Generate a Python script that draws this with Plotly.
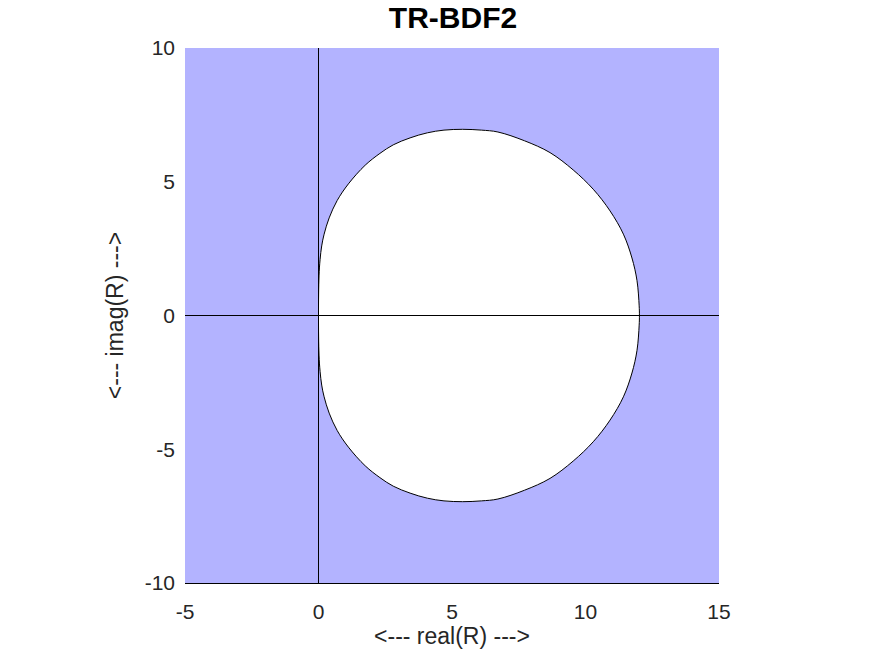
import plotly.graph_objects as go

# Stability boundary of TR-BDF2 (upper half, right to left)
bx_upper = [12.02, 12.01, 11.93, 11.74, 11.42, 10.92, 10.29, 9.54, 8.67, 7.72, 6.72, 6.10,
            5.40, 4.70, 4.08, 3.43, 2.80, 2.30, 1.75, 1.12, 0.70, 0.40, 0.21,
            0.12, 0.06, 0.02, 0.00]
by_upper = [0.00, 0.36, 1.30, 2.15, 3.04, 3.91, 4.72, 5.44, 6.09, 6.53, 6.86, 6.93,
            6.96, 6.93, 6.83, 6.64, 6.38, 6.06, 5.62, 4.92, 4.30, 3.65, 3.04,
            2.60, 2.10, 1.48, 0.00]
# lower half (left to right)
bx_lower = [0.00, 0.02, 0.06, 0.12, 0.21, 0.40, 0.70, 1.12, 1.75, 2.30, 2.80, 3.43,
            4.08, 4.70, 5.40, 6.10, 6.72, 7.72, 8.67, 9.54, 10.29, 10.92,
            11.42, 11.74, 11.93, 12.01, 12.02]
by_lower = [0.00, -1.48, -2.10, -2.60, -3.04, -3.65, -4.30, -4.92, -5.62, -6.06, -6.38, -6.64,
            -6.83, -6.93, -6.96, -6.93, -6.86, -6.53, -6.09, -5.44, -4.72, -3.91,
            -3.04, -2.15, -1.30, -0.36, 0.00]

x_range = [-5, 15]
y_range = [-10, 10]
xtick_vals = [-5, 0, 5, 10, 15]
xtick_text = ["-5", "0", "5", "10", "15"]
ytick_vals = [-10, -5, 0, 5, 10]
ytick_text = ["-10", "-5", "0", "5", "10"]

bx = bx_upper + bx_lower[1:]
by = by_upper + by_lower[1:]

fig = go.Figure()
fig.add_trace(go.Scatter(x=bx, y=by, mode="lines", fill="toself", fillcolor="white",
                         line=dict(color="black", width=1, shape="spline", smoothing=1.0),
                         hoverinfo="skip", showlegend=False))
# axes through origin
fig.add_trace(go.Scatter(x=x_range, y=[0, 0], mode="lines",
                         line=dict(color="black", width=1), showlegend=False, hoverinfo="skip"))
fig.add_trace(go.Scatter(x=[0, 0], y=y_range, mode="lines",
                         line=dict(color="black", width=1), showlegend=False, hoverinfo="skip"))

font_family = "Liberation Sans, Arial, sans-serif"
fig.update_layout(
    width=873, height=655,
    margin=dict(l=185, r=154, t=48, b=72),
    paper_bgcolor="white", plot_bgcolor="#b3b3ff",
    font=dict(family=font_family, size=21, color="#262626"),
    title=dict(text="<b>TR-BDF2</b>", x=453 / 873, xanchor="center", y=1 - 17 / 655, yanchor="middle",
               font=dict(size=30, color="black", family=font_family)),
    xaxis=dict(range=x_range, tickvals=xtick_vals, ticktext=xtick_text,
               showgrid=False, zeroline=False,
               showline=True, linecolor="black", linewidth=1, ticks="",
               ticklabelstandoff=10,
               title=dict(text="<--- real(R) --->", standoff=5, font=dict(size=23)),
               tickfont=dict(size=21)),
    yaxis=dict(range=y_range, tickvals=ytick_vals, ticktext=ytick_text,
               showgrid=False, zeroline=False,
               showline=False, ticks="", ticklabelstandoff=9,
               title=dict(text="<--- imag(R) --->", standoff=14, font=dict(size=23)),
               tickfont=dict(size=21)),
)
fig.write_html("out.html", config={"displayModeBar": False},
               post_script="document.body.style.margin='0';")
